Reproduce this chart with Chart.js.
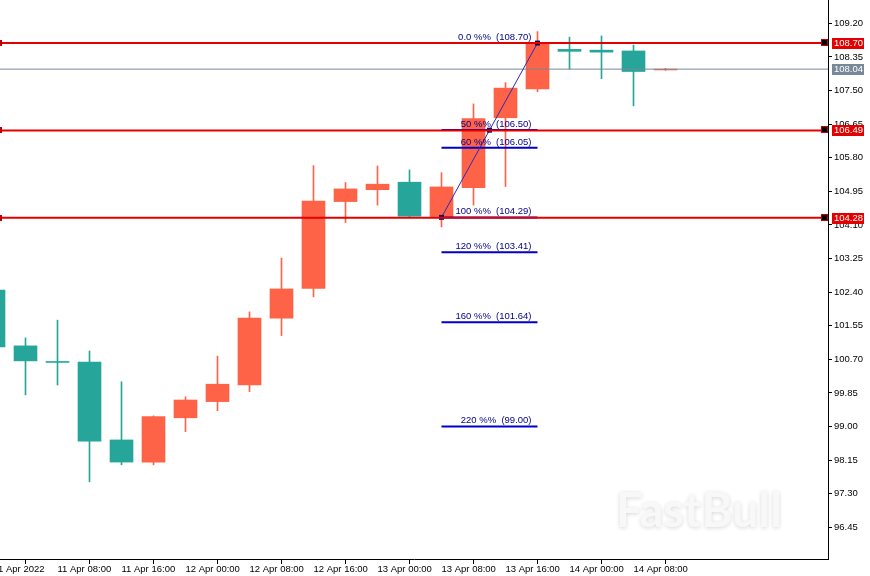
<!DOCTYPE html>
<html>
<head>
<meta charset="utf-8">
<script src="https://cdn.jsdelivr.net/npm/chart.js@4.4.1/dist/chart.umd.min.js"></script>
<style>
  html, body { margin: 0; padding: 0; background: #fff; }
  #wrap { width: 870px; height: 576px; }
</style>
</head>
<body>
<div id="wrap"><canvas id="chart" width="870" height="576"></canvas></div>
<script>
// 4H candles, slot 0 = 11 Apr 2022 00:00
const slots  = [0, 1, 2, 3, 4, 5, 6, 7, 8, 9, 10, 11, 12, 13, 14, 15, 16, 17, 18, 19, 20, 21];
const opens  = [102.45, 101.04, 100.645, 100.63, 98.66, 98.10, 99.22, 99.63, 100.05, 101.74, 102.49, 104.69, 104.99, 105.18, 104.31, 105.04, 106.81, 107.54, 108.54, 108.52, 108.50, 108.02];
const highs  = [102.70, 101.24, 101.69, 100.91, 100.13, 99.27, 99.75, 100.78, 101.90, 103.26, 105.60, 105.17, 105.59, 105.49, 105.42, 107.16, 107.70, 108.99, 108.85, 108.88, 108.65, 108.06];
const lows   = [100.85, 99.80, 100.05, 97.60, 98.03, 98.03, 98.87, 99.40, 99.88, 101.30, 102.28, 104.16, 104.60, 104.31, 104.05, 104.60, 105.07, 107.47, 108.04, 107.80, 107.11, 108.01];
const closes = [101.01, 100.66, 100.62, 98.63, 98.10, 99.25, 99.67, 100.07, 101.74, 102.48, 104.70, 105.01, 105.13, 104.32, 105.06, 106.79, 107.56, 108.71, 108.49, 108.47, 107.98, 108.04];

const timeTicks  = [0, 2, 4, 6, 8, 10, 12, 14, 16, 18, 20];
const timeLabels = ["11 Apr 2022", "11 Apr 08:00", "11 Apr 16:00", "12 Apr 00:00", "12 Apr 08:00",
                    "12 Apr 16:00", "13 Apr 00:00", "13 Apr 08:00", "13 Apr 16:00", "14 Apr 00:00", "14 Apr 08:00"];

const priceTicks = [96.45, 97.30, 98.15, 99.00, 99.85, 100.70, 101.55, 102.40,
                    103.25, 104.10, 104.95, 105.80, 106.65, 107.50, 108.35, 109.20];

const hLevels   = [108.70, 106.49, 104.28];
const lastPrice = 108.04;

// fibonacci drawn from slot 14 to slot 17
const fibFrom   = 14;
const fibTo     = 17;
const fibNames  = ["0.0", "50", "60", "100", "120", "160", "220"];
const fibPrices = [108.70, 106.50, 106.05, 104.29, 103.41, 101.64, 99.00];
const fibTrendX = [14, 15.5, 17];
const fibTrendY = [104.29, 106.495, 108.70];

const UP = "#ff6347";
const DOWN = "#26a69a";
const FONT = "'Liberation Sans', Arial, sans-serif";

const X_MIN = 0.203125, X_MAX = 26.078125;

const candleColors = slots.map((s, i) => closes[i] >= opens[i] ? UP : DOWN);

const datasets = [];

datasets.push({
    type: "bar",
    data: slots.map((s, i) => ({ x: s, y: [lows[i], highs[i]] })),
    backgroundColor: candleColors,
    barThickness: 1,
    grouped: false,
    borderWidth: 0,
    order: 10
});
datasets.push({
    type: "bar",
    data: slots.map((s, i) => ({ x: s, y: [opens[i], closes[i]] })),
    backgroundColor: candleColors,
    barThickness: 23,
    grouped: false,
    borderWidth: 0,
    order: 9
});

// fib level lines
fibPrices.forEach(p => {
    datasets.push({
        type: "line",
        data: [{ x: fibFrom, y: p }, { x: fibTo, y: p }],
        borderColor: "#0000cd",
        borderWidth: 2,
        pointRadius: 0,
        order: 6
    });
});

// fib trend line
datasets.push({
    type: "line",
    data: fibTrendX.map((x, i) => ({ x: x, y: fibTrendY[i] })),
    borderColor: "#2b2bb5",
    borderWidth: 1,
    pointStyle: "rect",
    pointRadius: 3.5,
    pointBackgroundColor: "#0d0d5e",
    pointBorderColor: "#0d0d5e",
    pointBorderWidth: 0,
    order: 4
});

// last price line
datasets.push({
    type: "line",
    data: [{ x: X_MIN - 1, y: lastPrice }, { x: X_MAX + 1, y: lastPrice }],
    borderColor: "#778899",
    borderWidth: 1,
    pointRadius: 0,
    order: 8
});

// red horizontal levels
hLevels.forEach(p => {
    datasets.push({
        type: "line",
        data: [{ x: X_MIN - 1, y: p }, { x: X_MAX + 1, y: p }],
        borderColor: "#e30000",
        borderWidth: 2,
        pointRadius: 0,
        order: 2
    });
});

const watermark = {
    id: "watermark",
    beforeDatasetsDraw(chart) {
        const ctx = chart.ctx;
        const a = chart.chartArea;
        ctx.save();
        ctx.font = "bold 47px Lato, 'Open Sans', sans-serif";
        ctx.textAlign = "left";
        ctx.textBaseline = "alphabetic";
        ctx.shadowColor = "rgba(0,0,0,0.16)";
        ctx.shadowBlur = 4;
        ctx.shadowOffsetY = 1;
        ctx.fillStyle = "#f8f8f8";
        ctx.fillText("FastBull", a.right - 212, a.bottom - 32);
        ctx.restore();
    }
};

const fibText = {
    id: "fibText",
    afterDatasetsDraw(chart) {
        const ctx = chart.ctx;
        const xs = chart.scales.x, ys = chart.scales.y;
        ctx.save();
        ctx.font = "9.5px " + FONT;
        ctx.fillStyle = "#00008b";
        ctx.textAlign = "right";
        ctx.textBaseline = "bottom";
        fibPrices.forEach((p, i) => {
            const t = fibNames[i] + " %%  (" + p.toFixed(2) + ")";
            ctx.fillText(t, xs.getPixelForValue(fibTo) - 6, ys.getPixelForValue(p) - 1);
        });
        ctx.restore();
    }
};

function priceBox(ctx, y, text, bg, x) {
    ctx.fillStyle = bg;
    ctx.fillRect(x, Math.round(y) - 5, 32, 11);
    ctx.fillStyle = "#fff";
    ctx.textAlign = "left";
    ctx.textBaseline = "middle";
    ctx.fillText(text, x + 2, Math.round(y) + 0.5);
}

const boxes = {
    id: "boxes",
    afterDraw(chart) {
        const ctx = chart.ctx;
        const ys = chart.scales.y;
        const a = chart.chartArea;
        ctx.save();
        ctx.font = "9.5px " + FONT;
        priceBox(ctx, ys.getPixelForValue(lastPrice), lastPrice.toFixed(2), "#778899", a.right + 4);
        hLevels.forEach(p => {
            const y = Math.round(ys.getPixelForValue(p));
            priceBox(ctx, y, p.toFixed(2), "#e30000", a.right + 4);
            ctx.fillStyle = "#c00000";
            ctx.fillRect(a.right - 7, y - 4, 7, 7);
            ctx.fillStyle = "#000";
            ctx.fillRect(a.right - 6, y - 3, 5, 5);
            ctx.fillStyle = "#c00000";
            ctx.fillRect(a.left, y - 3, 2, 6);
        });
        ctx.restore();
    }
};

Chart.defaults.font.family = FONT;
Chart.defaults.font.size = 9.5;
Chart.defaults.color = "#000";

new Chart(document.getElementById("chart"), {
    type: "bar",
    data: { datasets: datasets },
    options: {
        responsive: false,
        animation: false,
        devicePixelRatio: 1,
        layout: { padding: 0, autoPadding: false },
        plugins: {
            legend: { display: false },
            tooltip: { enabled: false }
        },
        scales: {
            x: {
                type: "linear",
                min: X_MIN,
                max: X_MAX,
                offset: false,
                afterBuildTicks: s => { s.ticks = timeTicks.map(v => ({ value: v })); },
                afterFit: s => { s.height = 17; s.paddingLeft = 0; s.paddingRight = 0; },
                ticks: {
                    autoSkip: false,
                    maxRotation: 0,
                    minRotation: 0,
                    align: "start",
                    padding: 0,
                    color: "#000",
                    callback: v => timeLabels[timeTicks.indexOf(v)]
                },
                grid: { drawOnChartArea: false, drawTicks: true, tickLength: 5, color: "#000" },
                border: { display: true, color: "#000", width: 1 }
            },
            y: {
                type: "linear",
                position: "right",
                min: 95.648,
                max: 109.789,
                afterBuildTicks: s => { s.ticks = priceTicks.map(v => ({ value: v })); },
                afterFit: s => { s.width = 42; s.paddingTop = 0; s.paddingBottom = 0; },
                ticks: {
                    padding: 2,
                    color: "#000",
                    callback: v => v.toFixed(2)
                },
                grid: { drawOnChartArea: false, drawTicks: true, tickLength: 4, color: "#000" },
                border: { display: true, color: "#000", width: 1 }
            }
        }
    },
    plugins: [watermark, fibText, boxes]
});
</script>
</body>
</html>
